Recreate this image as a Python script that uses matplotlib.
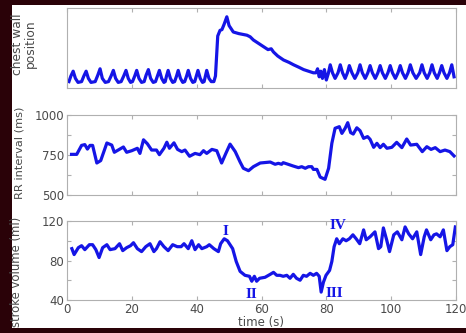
import matplotlib

matplotlib.use("Agg")
import matplotlib.pyplot as plt
from matplotlib.patches import Rectangle
from matplotlib.ticker import MultipleLocator

# chest wall position (arbitrary units)
chest_t = [0.6, 1.2, 1.9, 2.6, 3.4, 4.5, 5.2, 5.9, 6.6, 7.4, 8.7, 9.5, 10.2, 10.9,
           11.8, 12.8, 13.6, 14.3, 15.0, 15.8, 16.7, 17.5, 18.2, 18.9, 19.6, 20.2,
           20.9, 21.5, 22.2, 23.0, 23.8, 24.4, 25.1, 25.8, 26.6, 27.3, 27.9, 28.5,
           29.2, 29.9, 30.3, 30.7, 31.2, 31.9, 32.6, 33.2, 33.8, 34.3, 35.0, 35.7,
           36.3, 36.9, 37.4, 38.1, 38.8, 39.4, 39.9, 40.4, 41.1, 41.8, 42.3, 42.7,
           43.1, 43.8, 44.5, 45.3, 45.8, 46.5, 47.2, 47.8, 48.5, 49.3, 50.0, 51.3,
           53.0, 55.5, 56.5, 57.5, 59.0, 60.5, 62.0, 63.0, 63.7, 65.0, 66.8, 68.5,
           69.9, 71.5, 73.0, 74.5, 76.0, 76.8, 77.3, 77.8, 78.3, 78.8, 79.4, 80.0,
           80.6, 81.2, 81.9, 82.7, 83.6, 84.3, 85.0, 85.8, 86.5, 87.1, 87.9, 88.8,
           89.7, 90.4, 91.1, 92.0, 92.8, 93.5, 94.2, 95.1, 95.9, 96.6, 97.3, 98.2,
           99.0, 99.7, 100.4, 101.3, 102.1, 102.8, 103.5, 104.4, 105.2, 105.9,
           106.7, 107.7, 108.8, 109.5, 110.2, 111.1, 111.9, 112.6, 113.3, 114.2,
           114.9, 115.6, 116.3, 117.2, 118.0, 118.7, 119.4]
chest_v = [0.08, 0.15, 0.21, 0.12, 0.07, 0.08, 0.15, 0.21, 0.12, 0.07, 0.08, 0.16,
           0.24, 0.12, 0.07, 0.08, 0.15, 0.22, 0.12, 0.07, 0.08, 0.15, 0.22, 0.12,
           0.07, 0.08, 0.15, 0.22, 0.12, 0.07, 0.08, 0.16, 0.23, 0.12, 0.07, 0.08,
           0.15, 0.22, 0.12, 0.07, 0.08, 0.15, 0.22, 0.12, 0.07, 0.08, 0.15, 0.22,
           0.12, 0.07, 0.08, 0.15, 0.22, 0.12, 0.07, 0.08, 0.15, 0.22, 0.12, 0.07,
           0.08, 0.15, 0.22, 0.12, 0.08, 0.08, 0.15, 0.65, 0.72, 0.73, 0.80, 0.89,
           0.78, 0.70, 0.68, 0.66, 0.64, 0.60, 0.56, 0.52, 0.48, 0.49, 0.45, 0.40,
           0.35, 0.32, 0.29, 0.26, 0.23, 0.21, 0.19, 0.19, 0.24, 0.14, 0.21, 0.12,
           0.23, 0.10, 0.18, 0.29, 0.19, 0.12, 0.19, 0.29, 0.19, 0.12, 0.19, 0.28,
           0.19, 0.12, 0.19, 0.29, 0.19, 0.12, 0.19, 0.28, 0.19, 0.12, 0.19, 0.28,
           0.19, 0.12, 0.19, 0.28, 0.19, 0.12, 0.19, 0.28, 0.19, 0.12, 0.19, 0.29,
           0.19, 0.12, 0.19, 0.29, 0.19, 0.12, 0.19, 0.29, 0.19, 0.12, 0.19, 0.28,
           0.19, 0.12, 0.19, 0.29, 0.14]

# RR interval (ms)
rr_t = [1.4, 3.0, 4.5, 5.5, 6.3, 7.1, 7.9, 9.2, 10.4, 12.3, 13.8, 14.6, 15.8, 17.4,
        18.4, 20.0, 21.7, 22.5, 23.6, 24.8, 26.1, 27.6, 28.5, 29.9, 30.8, 31.6,
        33.0, 34.1, 35.4, 36.4, 37.8, 39.5, 41.0, 42.1, 43.1, 44.7, 46.2, 47.7,
        49.0, 50.3, 51.9, 53.4, 54.4, 56.0, 57.5, 59.6, 62.7, 64.2, 65.2, 66.2,
        66.7, 68.2, 69.8, 71.4, 72.4, 73.5, 74.5, 75.5, 76.0, 77.1, 78.1, 79.6,
        80.7, 81.7, 82.7, 84.0, 84.8, 85.8, 86.6, 87.5, 88.3, 89.4, 90.4, 91.5,
        92.7, 93.5, 94.6, 95.6, 96.6, 97.6, 98.7, 100.2, 101.7, 103.3, 104.8,
        106.0, 107.9, 109.6, 111.0, 112.3, 113.6, 115.1, 116.6, 118.1, 119.4]
rr_v = [754, 754, 810, 815, 787, 810, 810, 700, 715, 825, 812, 767, 781, 800, 767,
        777, 792, 760, 845, 820, 781, 781, 752, 792, 830, 792, 826, 785, 771, 781,
        742, 760, 752, 777, 760, 785, 777, 700, 760, 818, 771, 706, 667, 652, 677,
        700, 706, 692, 698, 692, 702, 692, 681, 671, 677, 667, 677, 677, 660, 660,
        612, 598, 667, 823, 917, 927, 885, 917, 952, 890, 881, 920, 902, 854, 865,
        848, 798, 823, 796, 817, 792, 798, 829, 796, 850, 812, 817, 771, 802, 785,
        796, 771, 781, 771, 744]

# stroke volume (ml)
sv_t = [1.5, 2.2, 3.5, 4.5, 5.5, 6.9, 7.9, 8.9, 9.9, 11.0, 12.3, 13.3, 14.8, 16.2,
        17.2, 18.4, 19.6, 20.5, 21.7, 23.0, 24.3, 25.6, 26.8, 27.6, 28.7, 29.9,
        31.2, 32.6, 34.0, 35.2, 36.1, 37.4, 38.5, 39.5, 40.6, 41.6, 43.1, 43.9,
        45.3, 46.7, 47.4, 48.5, 49.5, 50.3, 51.1, 52.2, 53.4, 54.9, 56.3, 57.0,
        57.8, 58.5, 59.4, 61.1, 62.7, 63.7, 64.7, 65.7, 66.7, 67.8, 68.8, 69.8,
        70.8, 71.9, 72.9, 73.9, 75.0, 76.0, 77.0, 77.8, 78.4, 79.1, 79.9, 81.0,
        81.7, 82.4, 83.2, 84.0, 85.1, 86.1, 87.1, 88.2, 89.2, 90.3, 91.5, 92.3,
        93.5, 95.0, 96.1, 96.8, 97.6, 98.6, 99.5, 100.8, 101.9, 103.3, 104.3,
        105.4, 106.6, 107.9, 109.1, 110.2, 110.9, 112.2, 113.2, 114.0, 115.1,
        116.1, 117.2, 118.1, 119.0, 119.8]
sv_v = [92, 86, 93, 95, 91, 96, 96, 91, 83, 93, 96, 91, 92, 97, 90, 93, 95, 98, 92,
        89, 94, 97, 89, 92, 99, 94, 90, 96, 94, 94, 97, 92, 100, 91, 96, 92, 94, 96,
        92, 89, 97, 102, 100, 96, 92, 79, 69, 65, 64, 59, 64, 59, 62, 63, 66, 68,
        65, 65, 64, 65, 62, 66, 62, 60, 65, 64, 67, 65, 67, 64, 48, 58, 65, 70, 79,
        94, 102, 97, 102, 100, 102, 106, 102, 97, 111, 101, 104, 109, 92, 94, 113,
        101, 89, 106, 109, 101, 114, 107, 102, 109, 86, 104, 111, 101, 106, 107,
        104, 111, 90, 94, 96, 114]

# phase markers on the stroke volume trace
phase_labels = ["I", "II", "III", "IV"]
phase_t = [49.0, 57.0, 82.5, 83.5]
phase_v = [109, 46, 47, 115]

line_color = "#1515e6"
grid_gray = "#b0b0b0"
text_gray = "#4a4a4a"

fig = plt.figure(figsize=(4.66, 3.33), dpi=100, facecolor="#2a0208")
fig.patches.append(Rectangle((12 / 466, 5 / 333), 1 - 12 / 466, 323 / 333,
                             transform=fig.transFigure, facecolor="white",
                             edgecolor="none", zorder=-10))

left, width = 67 / 466, 389 / 466
ax1 = fig.add_axes([left, 245 / 333, width, 80 / 333])
ax2 = fig.add_axes([left, 138 / 333, width, 80 / 333])
ax3 = fig.add_axes([left, 33 / 333, width, 79 / 333])

ax1.plot(chest_t, chest_v, color=line_color, lw=2.3)
ax2.plot(rr_t, rr_v, color=line_color, lw=2.3)
ax3.plot(sv_t, sv_v, color=line_color, lw=2.3)

ax1.set_ylim(0, 1)
ax1.set_yticks([])
ax2.set_ylim(500, 1000)
ax2.set_yticks([500, 625, 750, 875, 1000])
ax2.set_yticklabels(["500", "", "750", "", "1000"])
ax3.set_ylim(40, 120)
ax3.set_yticks([40, 60, 80, 100, 120])
ax3.set_yticklabels(["40", "", "80", "", "120"])

for ax in (ax1, ax2, ax3):
    ax.set_xlim(0, 120)
    ax.xaxis.set_major_locator(MultipleLocator(20))
    ax.tick_params(direction="in", length=3, color=grid_gray, labelcolor=text_gray,
                   labelsize=8.5, top=True, right=True, width=0.8, pad=2)
    for s in ax.spines.values():
        s.set_color(grid_gray)
        s.set_linewidth(0.8)
    ax.set_facecolor("white")
ax1.set_xticklabels([])
ax2.set_xticklabels([])

ax1.set_ylabel("chest wall\nposition", fontsize=8.8, color=text_gray, linespacing=1.0)
ax2.set_ylabel("RR interval (ms)", fontsize=8.2, color=text_gray)
ax3.set_ylabel("stroke volume (ml)", fontsize=8.4, color=text_gray)
ax1.yaxis.set_label_coords(-0.078, 0.55)
ax2.yaxis.set_label_coords(-0.11, 0.53)
ax3.yaxis.set_label_coords(-0.113, 0.36)
ax3.set_xlabel("time (s)", fontsize=8.5, color=text_gray)
ax3.xaxis.set_label_coords(0.5, -0.2)

for lab, t, v in zip(phase_labels, phase_t, phase_v):
    ax3.text(t, v, lab, color=line_color, fontsize=11, fontweight="bold",
             family="Liberation Serif", ha="center", va="center", clip_on=False)

fig.savefig("out.png", dpi=100, facecolor=fig.get_facecolor())
